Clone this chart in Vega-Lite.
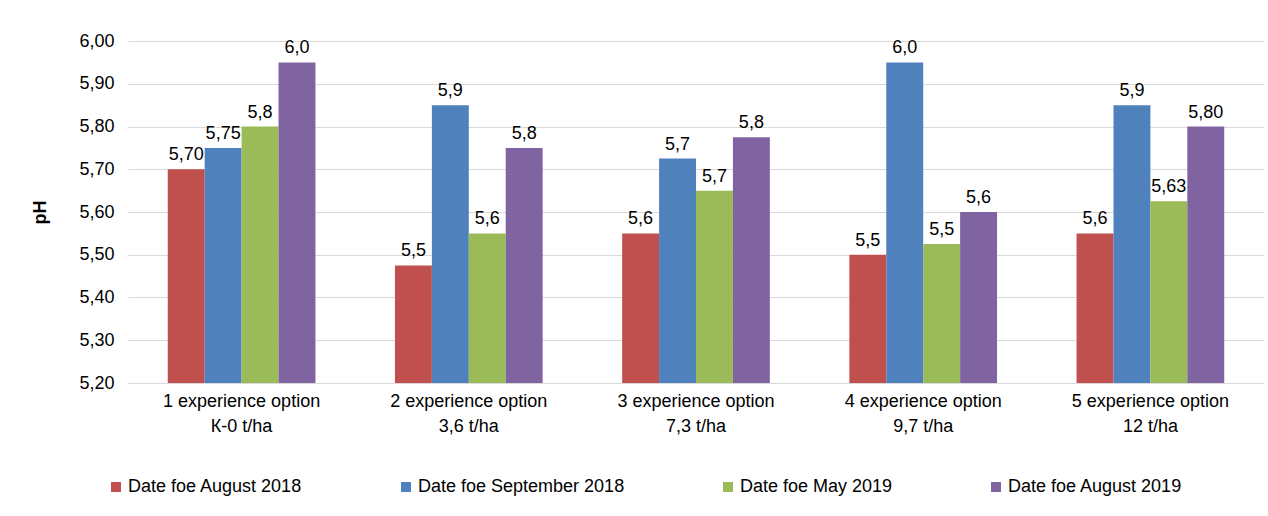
{
  "$schema": "https://vega.github.io/schema/vega-lite/v6.json",
  "width": 1136,
  "height": 342,
  "autosize": {"type": "none"},
  "padding": {"left": 128, "top": 41, "right": 4, "bottom": 133},
  "background": "white",
  "config": {
    "font": "Liberation Sans",
    "view": {"stroke": null},
    "axis": {"labelFont": "Liberation Sans", "titleFont": "Liberation Sans", "labelColor": "#000000", "titleColor": "#000000"}
  },
  "data": {
    "values": [
      {"option": "1 experience option|К-0 t/ha", "series": "Date foe August 2018", "value": 5.70, "label": "5,70"},
      {"option": "1 experience option|К-0 t/ha", "series": "Date foe September 2018", "value": 5.75, "label": "5,75"},
      {"option": "1 experience option|К-0 t/ha", "series": "Date foe May 2019", "value": 5.80, "label": "5,8"},
      {"option": "1 experience option|К-0 t/ha", "series": "Date foe August 2019", "value": 5.95, "label": "6,0"},
      {"option": "2 experience option|3,6 t/ha", "series": "Date foe August 2018", "value": 5.475, "label": "5,5"},
      {"option": "2 experience option|3,6 t/ha", "series": "Date foe September 2018", "value": 5.85, "label": "5,9"},
      {"option": "2 experience option|3,6 t/ha", "series": "Date foe May 2019", "value": 5.55, "label": "5,6"},
      {"option": "2 experience option|3,6 t/ha", "series": "Date foe August 2019", "value": 5.75, "label": "5,8"},
      {"option": "3 experience option|7,3 t/ha", "series": "Date foe August 2018", "value": 5.55, "label": "5,6"},
      {"option": "3 experience option|7,3 t/ha", "series": "Date foe September 2018", "value": 5.725, "label": "5,7"},
      {"option": "3 experience option|7,3 t/ha", "series": "Date foe May 2019", "value": 5.65, "label": "5,7"},
      {"option": "3 experience option|7,3 t/ha", "series": "Date foe August 2019", "value": 5.775, "label": "5,8"},
      {"option": "4 experience option|9,7 t/ha", "series": "Date foe August 2018", "value": 5.50, "label": "5,5"},
      {"option": "4 experience option|9,7 t/ha", "series": "Date foe September 2018", "value": 5.95, "label": "6,0"},
      {"option": "4 experience option|9,7 t/ha", "series": "Date foe May 2019", "value": 5.525, "label": "5,5"},
      {"option": "4 experience option|9,7 t/ha", "series": "Date foe August 2019", "value": 5.60, "label": "5,6"},
      {"option": "5 experience option|12 t/ha", "series": "Date foe August 2018", "value": 5.55, "label": "5,6"},
      {"option": "5 experience option|12 t/ha", "series": "Date foe September 2018", "value": 5.85, "label": "5,9"},
      {"option": "5 experience option|12 t/ha", "series": "Date foe May 2019", "value": 5.625, "label": "5,63"},
      {"option": "5 experience option|12 t/ha", "series": "Date foe August 2019", "value": 5.80, "label": "5,80"}
    ]
  },
  "encoding": {
    "x": {
      "field": "option", "type": "nominal", "sort": null, "title": null,
      "scale": {"paddingInner": 0.35, "paddingOuter": 0.175},
      "axis": {
        "labelAngle": 0, "labelFontSize": 18, "labelLineHeight": 25, "labelPadding": 9,
        "ticks": false, "domain": false,
        "labelExpr": "split(datum.label, '|')"
      }
    },
    "xOffset": {
      "field": "series", "type": "nominal",
      "sort": ["Date foe August 2018", "Date foe September 2018", "Date foe May 2019", "Date foe August 2019"],
      "scale": {"paddingInner": 0, "paddingOuter": 0}
    },
    "y": {
      "field": "value", "type": "quantitative", "title": "pH",
      "scale": {"domain": [5.2, 6.0], "zero": false, "nice": false},
      "axis": {
        "values": [5.2, 5.3, 5.4, 5.5, 5.6, 5.7, 5.8, 5.9, 6.0],
        "labelExpr": "replace(format(datum.value, '.2f'), '.', ',')",
        "labelFontSize": 18, "labelPadding": 14, "ticks": false, "domain": false,
        "gridColor": "#d9d9d9", "gridWidth": 1,
        "titleFontSize": 18, "titleFontWeight": "bold", "titleAngle": -90,
        "titleX": -88, "titleY": 171, "titleAlign": "center", "titleBaseline": "middle"
      }
    }
  },
  "layer": [
    {
      "mark": {"type": "bar"},
      "encoding": {
        "y2": {"datum": 5.2},
        "color": {
          "field": "series", "type": "nominal",
          "sort": ["Date foe August 2018", "Date foe September 2018", "Date foe May 2019", "Date foe August 2019"],
          "scale": {
            "domain": ["Date foe August 2018", "Date foe September 2018", "Date foe May 2019", "Date foe August 2019"],
            "range": ["#C0504D", "#4F81BD", "#9BBB59", "#8064A2"]
          },
          "legend": {
            "title": null, "orient": "none", "direction": "horizontal",
            "legendX": -21, "legendY": 437,
            "symbolType": "square", "symbolSize": 100, "symbolStrokeWidth": 0,
            "labelFontSize": 18, "labelColor": "#000000", "labelOffset": 3,
            "columnPadding": 94, "labelLimit": 400
          }
        }
      }
    },
    {
      "mark": {"type": "text", "baseline": "bottom", "dy": -5, "fontSize": 18, "color": "#000000"},
      "encoding": {"text": {"field": "label"}}
    }
  ]
}
